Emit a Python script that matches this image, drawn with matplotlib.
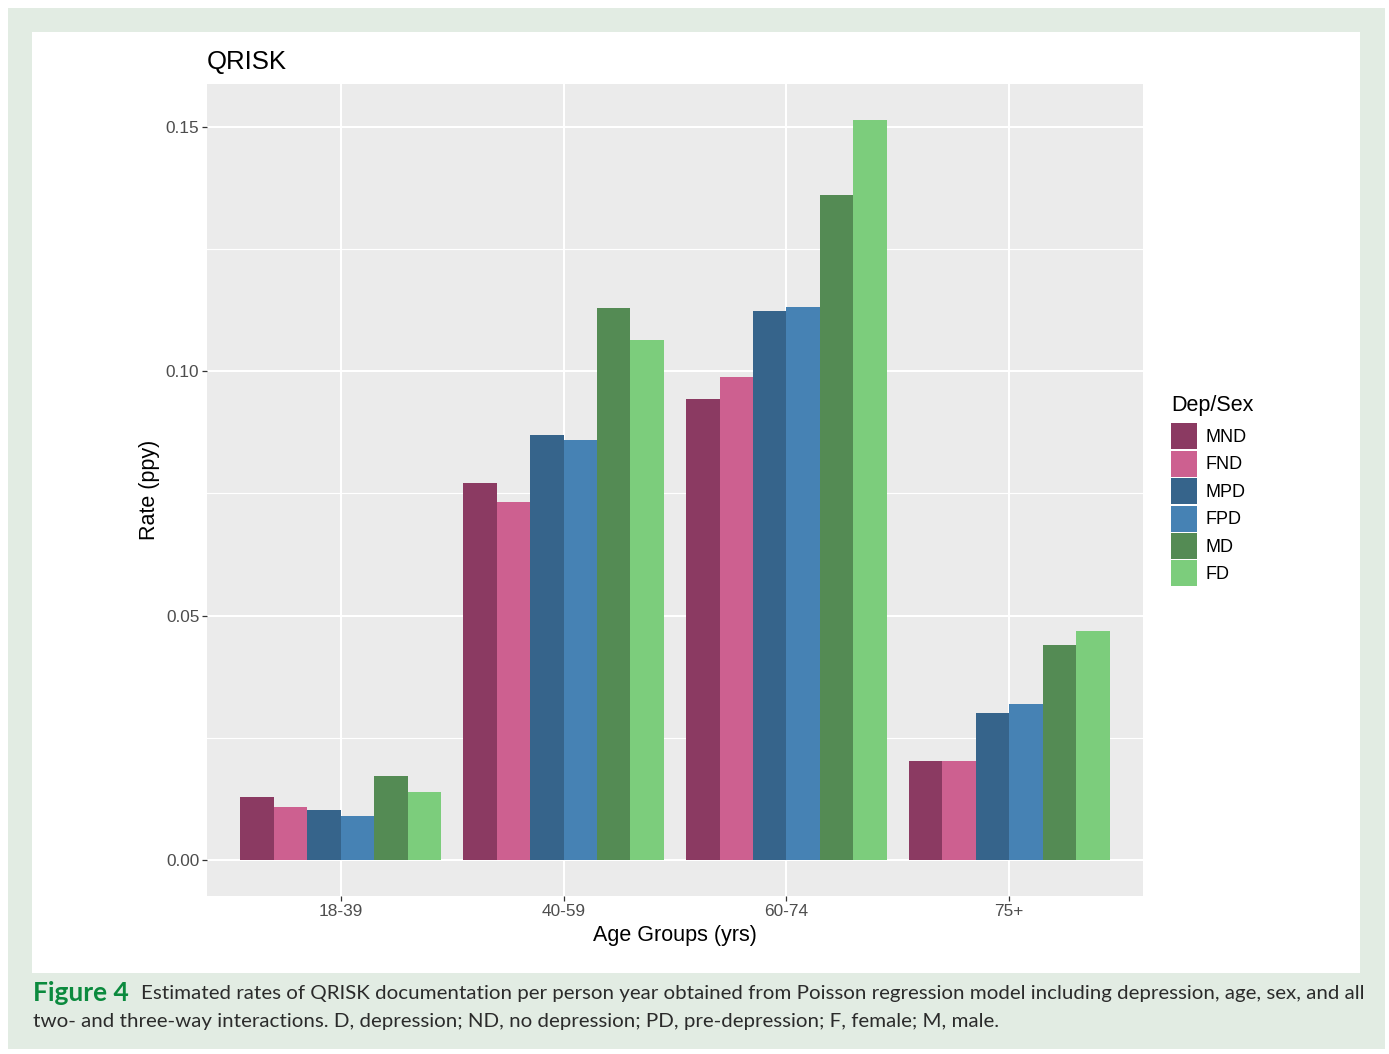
import numpy as np
import matplotlib.pyplot as plt
from matplotlib.patches import Patch, Rectangle

# Taux estimés (par personne-année) par groupe d'âge et par groupe Dep/Sex
age_groups = ["18-39", "40-59", "60-74", "75+"]
groups = ["MND", "FND", "MPD", "FPD", "MD", "FD"]
mnd = [0.0129, 0.0771, 0.0943, 0.0202]
fnd = [0.0108, 0.0732, 0.0988, 0.0202]
mpd = [0.0102, 0.0869, 0.1123, 0.0301]
fpd = [0.0090, 0.0859, 0.1131, 0.0319]
md = [0.0172, 0.1129, 0.1360, 0.0440]
fd = [0.0139, 0.1063, 0.1513, 0.0468]
series = [mnd, fnd, mpd, fpd, md, fd]

colors = ["#8B3A62", "#CD6090", "#36648B", "#4682B4", "#548B54", "#7CCD7C"]

W, H = 1389, 1054
fig = plt.figure(figsize=(W / 100, H / 100), dpi=100)
fig.patch.set_facecolor("white")
plt.rcParams["font.family"] = ["Liberation Sans", "DejaVu Sans"]

# cadre vert clair + panneau blanc
fig.add_artist(Rectangle((8 / W, 1 - 1049 / H), 1377 / W, 1041 / H,
                         transform=fig.transFigure, facecolor="#e2ece3",
                         edgecolor="none", zorder=0))
fig.add_artist(Rectangle((32 / W, 1 - 973 / H), 1328 / W, 941 / H,
                         transform=fig.transFigure, facecolor="white",
                         edgecolor="none", zorder=0))

ax = fig.add_axes([207 / W, 1 - 896 / H, 936 / W, 812 / H])
ax.set_facecolor("#EBEBEB")
ax.set_axisbelow(True)

x = np.arange(1, len(age_groups) + 1)
bw = 0.9 / len(groups)
for i, (vals, c, name) in enumerate(zip(series, colors, groups)):
    ax.bar(x - 0.45 + bw * (i + 0.5), vals, width=bw, color=c, label=name,
           edgecolor="none", zorder=3)

ax.set_xlim(0.4, 4.6)
ax.set_ylim(-0.00736, 0.1587)
ax.set_xticks(x)
ax.set_xticklabels(age_groups)
ax.set_yticks([0.0, 0.05, 0.10, 0.15])
ax.set_yticklabels(["0.00", "0.05", "0.10", "0.15"])
ax.set_yticks([0.025, 0.075, 0.125], minor=True)

ax.grid(which="major", color="white", linewidth=1.5)
ax.grid(which="minor", axis="y", color="white", linewidth=0.8)
for s in ax.spines.values():
    s.set_visible(False)
ax.tick_params(which="major", length=3.5, width=0.9, color="#333333",
               labelsize=12.4, labelcolor="#4d4d4d", pad=2)
ax.tick_params(which="minor", length=0)

ax.set_xlabel("Age Groups (yrs)", fontsize=15.5, color="black", labelpad=4.5)
ax.set_ylabel("Rate (ppy)", fontsize=15.5, color="black", labelpad=4)
ax.set_title("QRISK", fontsize=18.5, loc="left", pad=11)

handles = [Patch(facecolor=c, edgecolor="none", label=g) for c, g in zip(colors, groups)]
leg = fig.legend(handles=handles, title="Dep/Sex", loc="upper left",
                 bbox_to_anchor=(1164 / W, 1 - 388 / H), frameon=False,
                 fontsize=13, title_fontsize=15.5, handlelength=1.4,
                 handleheight=1.84, labelspacing=0.08, handletextpad=0.5,
                 borderaxespad=0)
leg._legend_box.align = "left"
leg._legend_box.sep = 5

# légende de la figure
fig.canvas.draw()
r = fig.canvas.get_renderer()
cap_size = 14.72
t1 = fig.text(33 / W, 1 - 993 / H, "Figure 4", fontsize=19,
              fontweight="bold", color="#0b8a3e", family="Lato", va="center")
bb = t1.get_window_extent(r)
fig.text((bb.x1 + 12) / W, 1 - 993 / H,
         "Estimated rates of QRISK documentation per person year obtained from "
         "Poisson regression model including depression, age, sex, and all",
         fontsize=cap_size, color="#2b2b2b", family="Lato", va="center")
fig.text(33 / W, 1 - 1022 / H,
         "two- and three-way interactions. D, depression; ND, no depression; "
         "PD, pre-depression; F, female; M, male.",
         fontsize=cap_size, color="#2b2b2b", family="Lato", va="center")

fig.savefig("out.png", dpi=100)
